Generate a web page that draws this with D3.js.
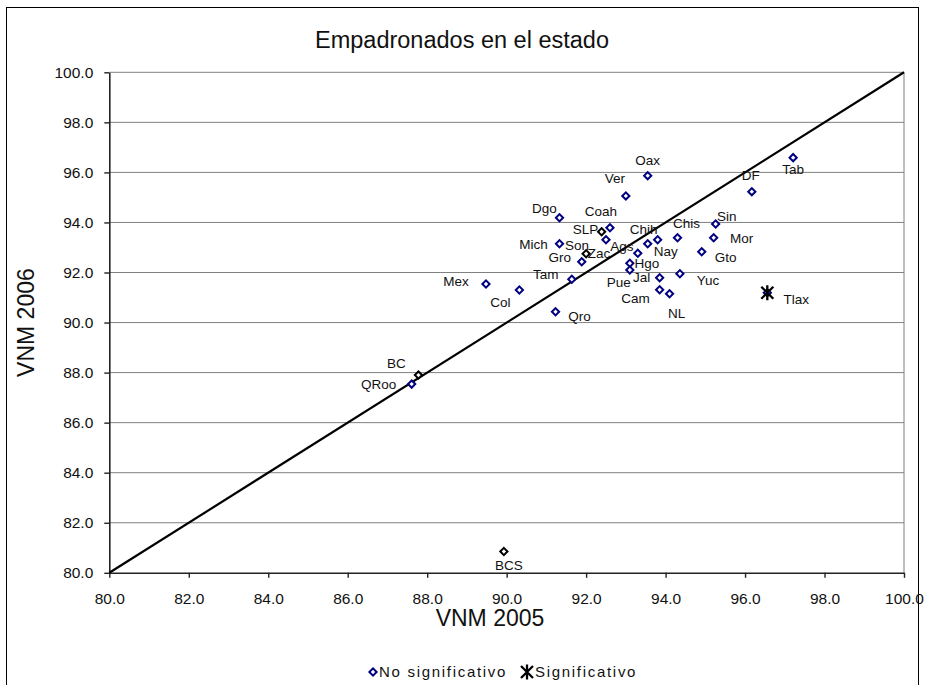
<!DOCTYPE html>
<html>
<head>
<meta charset="utf-8">
<script src="https://cdn.jsdelivr.net/npm/d3@7"></script>
<style>
  body { margin: 0; background: #fff; }
  text { font-family: "Liberation Sans", Arial, sans-serif; fill: #111; }
</style>
</head>
<body>
<svg id="chart" width="925" height="685"></svg>
<script>
// datos: VNM 2005 vs VNM 2006 por estado
var states  = ["Ags","BC","BCS","Cam","Coah","Col","Chis","Chih","DF","Dgo","Gto","Gro","Hgo","Jal","Mex","Mich",
               "Mor","Nay","NL","Oax","Pue","Qro","QRoo","SLP","Sin","Son","Tab","Tam","Tlax","Ver","Yuc","Zac"];
var vnm2005 = [93.30,87.78,89.93,93.85,92.60,90.32,94.30,93.80,96.17,91.33,94.91,91.89,93.10,93.85,89.48,91.33,
               95.21,93.55,94.10,93.55,93.10,91.23,87.61,92.39,95.26,92.50,97.21,91.64,96.56,93.00,94.36,92.00];
var vnm2006 = [92.77,87.90,80.85,91.31,93.79,91.30,93.39,93.31,95.23,94.19,92.83,92.43,92.37,91.79,91.54,93.15,
               93.39,93.15,91.15,95.87,92.10,90.43,87.54,93.63,93.94,93.31,96.59,91.73,91.19,95.06,91.95,92.75];
// n = no significativo, k = marcador negro, s = significativo
var group   = ["n","k","k","n","n","n","n","n","n","n","n","n","n","n","n","n",
               "n","n","n","n","n","n","n","k","n","n","n","n","s","n","n","k"];
var ticks = [80, 82, 84, 86, 88, 90, 92, 94, 96, 98, 100];
var diag = [80, 100];

// posicion de las etiquetas respecto al marcador (px)
var labelDx = [-16,-22,5,-24,-9,-19,9,-14,-1,-15,24,-22,17,-18,-30,-26,28,18,7,0,-11,24,-33,-16,11,-29,0,-26,29,-11,28,13];
var labelDy = [-7,-12,14,8,-17,12,-15,-11,-16,-9,5,-5,0,-1,-3,0,0,7,19,-15,12,4,0,-3,-8,5,12,-5,6,-18,6,-1];

var svg = d3.select("#chart");
var BLUE = "#000080";

var x = d3.scaleLinear().domain([80, 100]).range([109.3, 904]);
var y = d3.scaleLinear().domain([80, 100]).range([572.8, 72.3]);

// borde del area del grafico
svg.append("rect")
    .attr("x", 6.5).attr("y", 7.5).attr("width", 912).attr("height", 700)
    .attr("fill", "none").attr("stroke", "#000").attr("stroke-width", 1);

// titulo
svg.append("text")
    .attr("x", 462).attr("y", 48)
    .attr("text-anchor", "middle")
    .style("font-size", "23.5px")
    .text("Empadronados en el estado");

// lineas de division
svg.append("g").selectAll("line")
    .data(ticks.slice(1))
    .join("line")
    .attr("x1", x(80)).attr("x2", x(100))
    .attr("y1", function(d) { return y(d); })
    .attr("y2", function(d) { return y(d); })
    .attr("stroke", "#808080").attr("stroke-width", 1);
svg.append("line")
    .attr("x1", x(100)).attr("x2", x(100)).attr("y1", y(100)).attr("y2", y(80))
    .attr("stroke", "#808080").attr("stroke-width", 1);

var fmt = d3.format(".1f");
var xAxis = svg.append("g")
    .attr("transform", "translate(0," + y(80) + ")")
    .call(d3.axisBottom(x).tickValues(ticks).tickFormat(fmt).tickSize(5).tickSizeOuter(0).tickPadding(15));
var yAxis = svg.append("g")
    .attr("transform", "translate(" + x(80) + ",0)")
    .call(d3.axisLeft(y).tickValues(ticks).tickFormat(fmt).tickSize(5).tickSizeOuter(0).tickPadding(11));
[xAxis, yAxis].forEach(function(a) {
    a.select(".domain").attr("stroke", "#222").attr("stroke-width", 1.6);
    a.selectAll(".tick line").attr("stroke", "#222").attr("stroke-width", 1.4);
    a.selectAll(".tick text").style("font-size", "15.5px").attr("fill", "#111")
        .style("font-family", '"Liberation Sans", Arial, sans-serif');
});

// titulos de ejes
svg.append("text")
    .attr("x", 490).attr("y", 626)
    .attr("text-anchor", "middle")
    .style("font-size", "23px")
    .text("VNM 2005");
svg.append("text")
    .attr("transform", "translate(34," + (y(80) + y(100)) / 2 + ") rotate(-90)")
    .attr("text-anchor", "middle")
    .style("font-size", "23px")
    .text("VNM 2006");

// recta y = x
svg.append("line")
    .attr("x1", x(diag[0])).attr("y1", y(diag[0]))
    .attr("x2", x(diag[1])).attr("y2", y(diag[1]))
    .attr("stroke", "#000").attr("stroke-width", 2.2);

var diamond = d3.symbol().type(d3.symbolSquare).size(26);

function drawStar(sel) {
    sel.append("path")
        .attr("d", "M-6,-6L6,6M-6,6L6,-6M0,-7.5L0,7.5")
        .attr("stroke", "#000").attr("stroke-width", 2.3).attr("fill", "none");
}

var idx = d3.range(states.length);

var pts = svg.append("g").selectAll("g")
    .data(idx)
    .join("g")
    .attr("transform", function(i) { return "translate(" + x(vnm2005[i]) + "," + y(vnm2006[i]) + ")"; });

pts.append("path")
    .attr("d", diamond)
    .attr("transform", "rotate(45)")
    .attr("fill", "#fff")
    .attr("stroke", function(i) { return group[i] == "k" ? "#000" : BLUE; })
    .attr("stroke-width", 2);

pts.filter(function(i) { return group[i] == "s"; }).call(drawStar);

// etiquetas
svg.append("g").selectAll("text")
    .data(idx)
    .join("text")
    .attr("x", function(i) { return x(vnm2005[i]) + labelDx[i]; })
    .attr("y", function(i) { return y(vnm2006[i]) + labelDy[i] + 4.8; })
    .attr("text-anchor", "middle")
    .style("font-size", "13.5px")
    .text(function(i) { return states[i]; });

// leyenda
var leg = svg.append("g");
leg.append("path")
    .attr("d", diamond)
    .attr("transform", "translate(373,672) rotate(45)")
    .attr("fill", "#fff").attr("stroke", BLUE).attr("stroke-width", 2);
leg.append("text")
    .attr("x", 379).attr("y", 677)
    .style("font-size", "15px").style("letter-spacing", "1.7px")
    .text("No significativo");
leg.append("g").attr("transform", "translate(527,672)").call(drawStar);
leg.append("text")
    .attr("x", 535).attr("y", 677)
    .style("font-size", "15px").style("letter-spacing", "1.7px")
    .text("Significativo");
</script>
</body>
</html>
